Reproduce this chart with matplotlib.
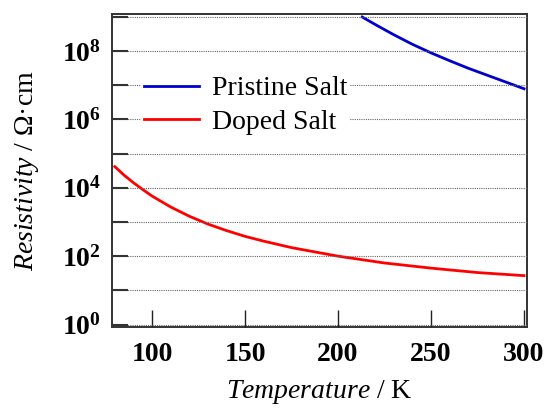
import numpy as np
import matplotlib
matplotlib.use('Agg')
import matplotlib.pyplot as plt

# values (log10 of resistivity in Ohm*cm)
pristine_T = [213, 220, 230, 240, 250, 260, 270, 280, 290, 300]
pristine_log_rho = [9.0, 8.78, 8.48, 8.2, 7.95, 7.72, 7.5, 7.3, 7.1, 6.9]

doped_T = [80, 85, 90, 95, 100, 110, 120, 130, 140, 150, 160, 175, 200, 225, 250, 275, 300]
doped_log_rho = [4.62, 4.37, 4.15, 3.95, 3.76, 3.44, 3.17, 2.94, 2.75, 2.58, 2.44, 2.25,
                 2.0, 1.80, 1.65, 1.52, 1.43]

x_ticks = [100, 150, 200, 250, 300]
y_exponents = list(range(0, 10))

plt.rcParams['font.family'] = 'Liberation Serif'
plt.rcParams['mathtext.fontset'] = 'custom'
plt.rcParams['mathtext.rm'] = 'Liberation Serif:bold'
plt.rcParams['mathtext.bf'] = 'Liberation Serif:bold'
plt.rcParams['mathtext.it'] = 'Liberation Serif:italic'
plt.rcParams['mathtext.sf'] = 'Liberation Serif'

fig = plt.figure(figsize=(5.47, 4.09), dpi=100)
ax = fig.add_axes([0.2048, 0.2005, 0.7587, 0.7653])

ax.plot(pristine_T, 10 ** np.array(pristine_log_rho), color='#0000cc', lw=2.0, label='Pristine Salt')
ax.plot(doped_T, 10 ** np.array(doped_log_rho), color='#ff0000', lw=2.0, label='Doped Salt')

ax.set_yscale('log')
ax.set_xlim(78.5, 301.6)
ax.set_ylim(10 ** -0.073, 10 ** 9.088)

ax.set_xticks(x_ticks)
ax.set_xticklabels([str(t) for t in x_ticks], fontweight='bold', fontsize=20)
ax.set_yticks([10.0 ** e for e in y_exponents])
ax.set_yticklabels([r'$10^{%d}$' % e if e % 2 == 0 else '' for e in y_exponents], fontsize=20)
ax.minorticks_off()
ax.tick_params(axis='y', which='minor', left=False, right=False)

ax.tick_params(axis='x', direction='in', length=12, width=1.0, color='#222222', pad=11)
ax.tick_params(axis='y', direction='in', length=11.5, width=1.5, color='#333333', pad=8)

ax.grid(True, axis='y', linestyle=(0, (1, 1)), color='#666666', lw=0.8)
ax.set_axisbelow(False)

for s in ax.spines.values():
    s.set_linewidth(1.4)
    s.set_color('#333333')

ax.set_xlabel(r'$\mathit{Temperature}\mathsf{\ /\ K}$', fontsize=20, labelpad=8)
ax.set_ylabel(r'$\mathit{Resistivity}\mathsf{\ /\ \Omega' + '\u00b7' + r'cm}$', fontsize=20, labelpad=15)

leg = ax.legend(loc='center left', bbox_to_anchor=(0.07, 0.708), fontsize=20,
                frameon=True, fancybox=False, framealpha=1, edgecolor='none',
                borderpad=0.1, borderaxespad=0, handlelength=2.0, handletextpad=0.45,
                labelspacing=0.28)

fig.savefig('out.png', dpi=100)
